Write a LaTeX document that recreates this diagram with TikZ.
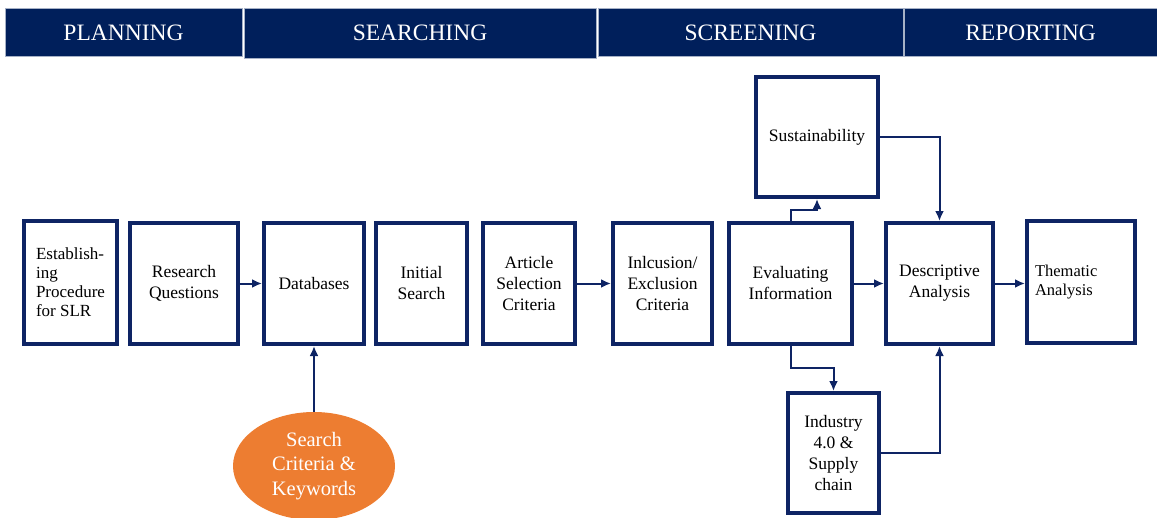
\documentclass[tikz,border=0pt]{standalone}
\usepackage{fontspec}
\setmainfont{Liberation Serif}
\usepackage{xcolor}
\usepackage{tikz}
\usetikzlibrary{shapes,arrows.meta,positioning,calc}

\definecolor{hdrblue}{RGB}{0,31,91}
\definecolor{boxblue}{RGB}{14,36,100}
\definecolor{kworange}{RGB}{237,125,49}

\begin{document}
\begin{tikzpicture}[x=1pt, y=-1pt,
    phase/.style={rectangle, fill=hdrblue, draw=hdrblue!35, line width=0.6pt, minimum height=48pt, inner sep=0pt, text=white, font=\fontsize{23.5}{26}\selectfont},
    stepbox/.style={rectangle, draw=boxblue, line width=4pt, minimum height=121pt, align=center, inner sep=2pt, font=\fontsize{17.5}{21}\selectfont},
    keyword/.style={ellipse, fill=kworange, minimum width=162pt, minimum height=108pt, text=white, align=center, font=\fontsize{20.5}{24.5}\selectfont},
    arrow/.style={-{Latex[length=10pt,width=9pt]}, draw=boxblue, line width=2pt}
]
\useasboundingbox (0,0) rectangle (1157,517);

% Phase headers
\node[phase, minimum width=237pt] (planning) at (123.5,32.5) {PLANNING};
\node[phase, minimum width=352pt, minimum height=50pt] (searching) at (420,33) {SEARCHING};
\node[phase, minimum width=305pt] (screening) at (750.5,32.5) {SCREENING};
\node[phase, minimum width=253pt] (reporting) at (1030.5,32.5) {REPORTING};

% Steps
\node[stepbox, minimum width=93pt, minimum height=123pt, align=left, font=\fontsize{17}{19}\selectfont] (establish) at (70.5,282.5) {
    Establish-\\ing\\Procedure\\for SLR
};
\node[stepbox, minimum width=108pt] (questions) at (184,283.5) {Research\\Questions};
\node[stepbox, minimum width=100pt] (databases) at (314,283.5) {Databases};
\node[stepbox, minimum width=91pt] (initial) at (421.5,283.5) {Initial\\Search};
\node[stepbox, minimum width=92pt] (selection) at (529,283.5) {Article\\Selection\\Criteria};
\node[stepbox, minimum width=99pt] (inclusion) at (662.5,283.5) {Inlcusion/\\Exclusion\\Criteria};
\node[stepbox, minimum width=123pt] (evaluating) at (790.5,283.5) {Evaluating\\Information};
\node[stepbox, minimum width=122pt, minimum height=120pt] (sustain) at (817,137) {Sustainability};
\node[stepbox, minimum width=107pt] (descriptive) at (939.5,283.5) {Descriptive\\Analysis};
\node[stepbox, minimum width=108pt, minimum height=122pt, text width=92pt, align=left, font=\fontsize{16.5}{19}\selectfont] (thematic) at (1081,282) {Thematic\\Analysis};
\node[stepbox, minimum width=91pt, minimum height=120pt] (industry) at (833.5,453) {Industry\\4.0 \&\\Supply\\chain};

% Keywords
\node[keyword] (keywords) at (314,466) {Search\\Criteria \&\\Keywords};

% Arrows
\draw[arrow] (questions) -- (databases);
\draw[arrow] (keywords) -- (databases);
\draw[arrow] (selection) -- (inclusion);
\draw[arrow] (evaluating) -- (descriptive);
\draw[arrow] (descriptive.east) -- (thematic.west |- descriptive.east);
\draw[arrow] (evaluating.north) -- ++(0,-11) -| (sustain.south);
\draw[arrow] (evaluating.south) -- ++(0,22) -| (industry.north);
\draw[arrow] (sustain.east) -| (descriptive.north);
\draw[arrow] (industry.east) -| (descriptive.south);

\end{tikzpicture}
\end{document}
